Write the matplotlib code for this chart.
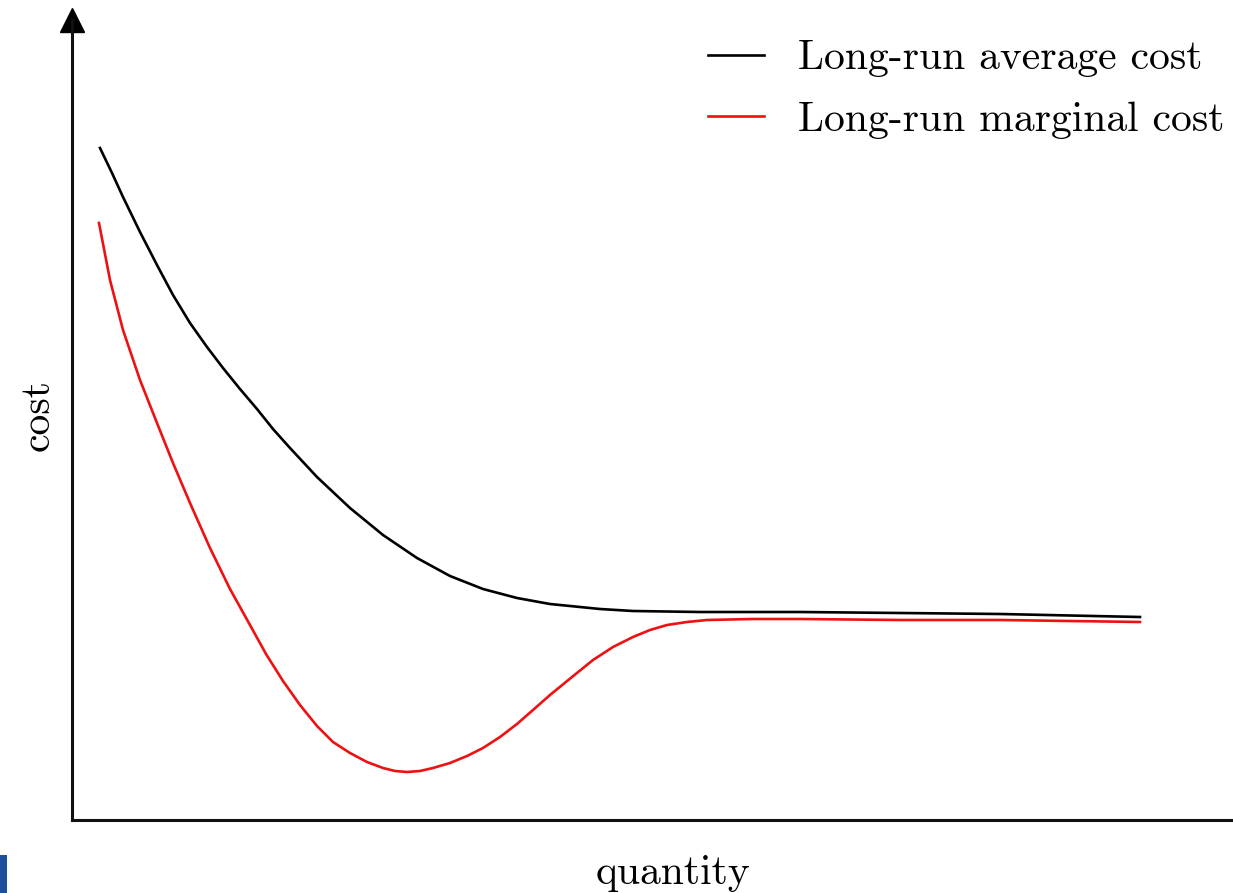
import matplotlib
matplotlib.use("Agg")
import matplotlib.pyplot as plt
from matplotlib.patches import Rectangle

plt.rcParams['font.family'] = ['cmr10', 'DejaVu Serif']
plt.rcParams['axes.unicode_minus'] = False

# Long-run average cost (quantity, cost)
avg_q = [28, 40, 51, 68, 85, 101, 118, 135, 151, 168, 185, 201, 218, 245, 278, 311, 345, 378, 411, 445, 478, 528, 561, 628, 728, 828, 928, 1068]
avg_c = [672, 647, 623, 588, 555, 525, 497, 473, 452, 431, 411, 391, 372, 343, 312, 285, 262, 244, 231, 222, 216, 211, 209, 208, 208, 207, 206, 203]

# Long-run marginal cost
mc_q = [27, 38, 51, 68, 85, 101, 118, 138, 158, 178, 194, 211, 228, 245, 261, 278, 295, 311, 323, 335, 348, 361, 378, 395, 411, 428, 445, 461, 478, 500, 521, 541, 561, 578, 595, 615, 635, 680, 728, 828, 928, 1068]
mc_c = [597, 540, 490, 440, 397, 357, 317, 272, 231, 195, 166, 139, 115, 94, 78, 67, 58, 52, 49, 48, 49, 52, 57, 64, 72, 83, 96, 110, 125, 143, 160, 173, 183, 190, 195, 198, 200, 201, 201, 200, 200, 198]

labels = ["Long-run average cost", "Long-run marginal cost"]

W, H = 1233, 893
fig = plt.figure(figsize=(W / 100, H / 100), dpi=100)
ax = fig.add_axes([72 / W, (H - 820) / H, (W - 72) / W, (820 - 20) / H])
ax.set_xlim(0, W - 72)
ax.set_ylim(0, 800)

ax.plot(avg_q, avg_c, color='black', lw=1.9, label=labels[0], solid_joinstyle='round')
ax.plot(mc_q, mc_c, color='#ee1111', lw=1.9, label=labels[1], solid_joinstyle='round')

for s in ['top', 'right']:
    ax.spines[s].set_visible(False)
for s in ['left', 'bottom']:
    ax.spines[s].set_linewidth(2.2)
    ax.spines[s].set_color('#111111')
ax.set_xticks([])
ax.set_yticks([])
ax.plot([0], [1], marker='^', markersize=17, color='black', transform=ax.transAxes, clip_on=False)

leg = ax.legend(frameon=False, loc='upper right', bbox_to_anchor=(1224 / W, (H - 40) / H),
                bbox_transform=fig.transFigure, fontsize=30, handlelength=1.35,
                handletextpad=0.8, labelspacing=0.58, borderaxespad=0, borderpad=0)
for line in leg.get_lines():
    line.set_linewidth(1.9)

fig.text(673 / W, (H - 873) / H, "quantity", fontsize=30, ha='center', va='center')
fig.text(38 / W, (H - 415) / H, "cost", fontsize=30, ha='center', va='center', rotation=90)

fig.patches.append(Rectangle((0, (H - 893) / H), 7 / W, 38 / H, transform=fig.transFigure,
                             facecolor='#1f4e9a', edgecolor='none'))

fig.savefig("out.png", dpi=100)
